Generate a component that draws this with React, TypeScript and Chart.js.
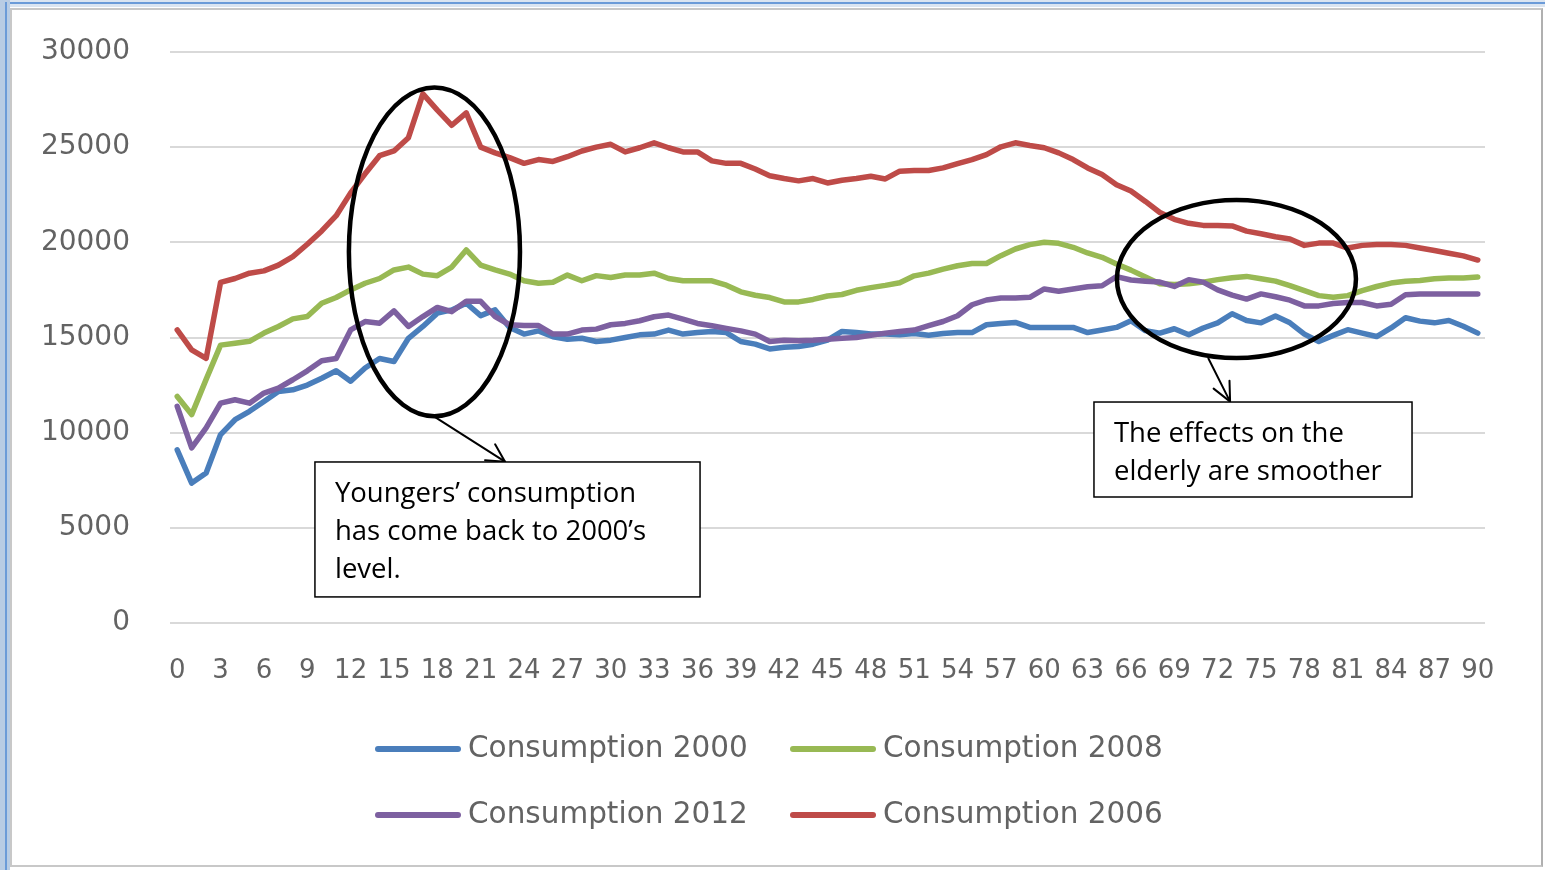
import React, { useEffect, useRef } from "react";
import { Chart, registerables } from "chart.js";

Chart.register(...registerables);

// ---------- data ----------
const AGES = [
  "0","1","2","3","4","5","6","7","8","9","10","11","12","13","14","15","16","17","18","19",
  "20","21","22","23","24","25","26","27","28","29","30","31","32","33","34","35","36","37","38","39",
  "40","41","42","43","44","45","46","47","48","49","50","51","52","53","54","55","56","57","58","59",
  "60","61","62","63","64","65","66","67","68","69","70","71","72","73","74","75","76","77","78","79",
  "80","81","82","83","84","85","86","87","88","89","90",
];

const CONS_2000 = [
  9100, 7350, 7880, 9900, 10680, 11120, 11640, 12160, 12250, 12500,
  12860, 13250, 12700, 13400, 13900, 13740, 14960, 15580, 16280, 16450,
  16800, 16150, 16450, 15530, 15180, 15350, 15040, 14910, 14960, 14790,
  14860, 15000, 15140, 15180, 15390, 15180, 15260, 15320, 15260, 14790,
  14650, 14400, 14490, 14530, 14650, 14860, 15320, 15260, 15180, 15180,
  15140, 15210, 15120, 15210, 15260, 15260, 15670, 15740, 15790, 15530,
  15530, 15530, 15530, 15260, 15390, 15530, 15880, 15360, 15230, 15460,
  15140, 15500, 15770, 16250, 15890, 15770, 16130, 15770, 15180, 14790,
  15110, 15410, 15230, 15050, 15500, 16040, 15860, 15770, 15890, 15590,
  15230,
];

const CONS_2008 = [
  11900, 10950, 12800, 14600, 14700, 14800, 15230, 15580, 15980, 16100,
  16800, 17100, 17500, 17850, 18100, 18550, 18700, 18330, 18250, 18700,
  19600, 18800, 18550, 18330, 17980, 17850, 17900, 18280, 17980, 18250,
  18150, 18280, 18280, 18380, 18100, 17980, 17980, 17980, 17750, 17400,
  17220, 17100, 16870, 16870, 17000, 17180, 17260, 17480, 17620, 17740,
  17880, 18240, 18380, 18590, 18770, 18890, 18890, 19300, 19650, 19880,
  20000, 19950, 19740, 19440, 19210, 18860, 18540, 18180, 17820, 17790,
  17820, 17910, 18040, 18140, 18210, 18090, 17960, 17730, 17460, 17200,
  17110, 17200, 17460, 17680, 17860, 17960, 18000, 18090, 18130, 18130,
  18180,
];

const CONS_2012 = [
  11380, 9200, 10250, 11550, 11730, 11550, 12080, 12340, 12780, 13250,
  13780, 13900, 15400, 15840, 15750, 16400, 15580, 16100, 16580, 16360,
  16900, 16900, 16100, 15670, 15630, 15630, 15180, 15180, 15390, 15440,
  15670, 15740, 15880, 16090, 16180, 15970, 15740, 15620, 15480, 15350,
  15180, 14790, 14860, 14830, 14850, 14910, 14960, 15000, 15120, 15230,
  15320, 15390, 15620, 15840, 16140, 16720, 16970, 17080, 17080, 17110,
  17550, 17430, 17550, 17670, 17720, 18200, 18020, 17960, 17910, 17680,
  18040, 17910, 17500, 17230, 17020, 17290, 17140, 16960, 16660, 16660,
  16790, 16840, 16840, 16660, 16750, 17250, 17290, 17290, 17290, 17290,
  17290,
];

const CONS_2006 = [
  15400, 14350, 13900, 17900, 18100, 18380, 18500, 18800, 19250, 19900,
  20600, 21400, 22600, 23600, 24550, 24800, 25500, 27800, 26950, 26150,
  26800, 25000, 24700, 24450, 24150, 24350, 24250, 24500, 24800, 25000,
  25150, 24750, 24970, 25230, 24970, 24750, 24750, 24280, 24150, 24150,
  23850, 23500, 23350, 23230, 23350, 23120, 23260, 23350, 23470, 23330,
  23740, 23770, 23770, 23910, 24140, 24350, 24610, 25020, 25230, 25090,
  24970, 24700, 24350, 23910, 23560, 23030, 22700, 22150, 21570, 21210,
  21000, 20890, 20890, 20860, 20590, 20450, 20290, 20180, 19840, 19960,
  19960, 19700, 19840, 19880, 19880, 19840, 19700, 19570, 19430, 19290,
  19070,
];

const SERIES_NAMES = ["Consumption 2000", "Consumption 2008", "Consumption 2012", "Consumption 2006"];
const SERIES_VALUES = [CONS_2000, CONS_2008, CONS_2012, CONS_2006];
const SERIES_COLORS = ["#4a7ebb", "#98b954", "#7d60a0", "#be4b48"];

const NOTE_YOUNG = ["Youngers\u2019 consumption", "has come back to 2000\u2019s", "level."];
const NOTE_OLD = ["The effects on the", "elderly are smoother"];

// ---------- annotation geometry (data units: x = age index, y = value) ----------
const ELLIPSES = [
  { cx: 17.8, cy: 19500, rx: 5.92, ry: 8640 },
  { cx: 73.3, cy: 18070, rx: 8.27, ry: 4150 },
];
const ARROWS = [
  { x1: 17.6, y1: 10930, x2: 22.68, y2: 8475, head: 20, spread: 28 },
  { x1: 71.36, y1: 13900, x2: 72.86, y2: 11630, head: 21, spread: 25 },
];
const NOTES = [
  { x1: 9.53, y1: 8460, x2: 36.18, y2: 1370, lines: NOTE_YOUNG },
  { x1: 63.44, y1: 11610, x2: 85.45, y2: 6620, lines: NOTE_OLD },
];

// legend layout (pixels)
const LEGEND_COLS = [375, 790];
const LEGEND_ROWS = [749, 815];
const LEGEND_LINE = 86;

const annotationPlugin = {
  id: "annotations",
  afterDraw(chart: any) {
    const ctx = chart.ctx;
    const xs = chart.scales.x;
    const ys = chart.scales.y;
    const px = (v: number) => xs.getPixelForValue(v);
    const py = (v: number) => ys.getPixelForValue(v);
    const unitX = px(1) - px(0);
    const unitY = py(0) - py(1);
    ctx.save();

    // ellipses
    ctx.strokeStyle = "#000";
    ctx.lineWidth = 4.5;
    ELLIPSES.forEach((e) => {
      ctx.beginPath();
      ctx.ellipse(px(e.cx), py(e.cy), e.rx * unitX, e.ry * unitY, 0, 0, Math.PI * 2);
      ctx.stroke();
    });

    // arrows
    ctx.lineWidth = 2;
    ctx.lineCap = "round";
    ARROWS.forEach((a) => {
      const x1 = px(a.x1), y1 = py(a.y1), x2 = px(a.x2), y2 = py(a.y2);
      ctx.beginPath();
      ctx.moveTo(x1, y1);
      ctx.lineTo(x2, y2);
      ctx.stroke();
      const ang = Math.atan2(y1 - y2, x1 - x2);
      const sp = (a.spread * Math.PI) / 180;
      ctx.beginPath();
      ctx.moveTo(x2 + a.head * Math.cos(ang + sp), y2 + a.head * Math.sin(ang + sp));
      ctx.lineTo(x2, y2);
      ctx.lineTo(x2 + a.head * Math.cos(ang - sp), y2 + a.head * Math.sin(ang - sp));
      ctx.stroke();
    });

    // note boxes
    NOTES.forEach((n) => {
      const left = px(n.x1), top = py(n.y1), right = px(n.x2), bottom = py(n.y2);
      ctx.fillStyle = "#fff";
      ctx.fillRect(left, top, right - left, bottom - top);
      ctx.strokeStyle = "#000";
      ctx.lineWidth = 1.5;
      ctx.strokeRect(left, top, right - left, bottom - top);
      ctx.fillStyle = "#000";
      ctx.font = '27.5px "Open Sans"';
      ctx.textBaseline = "alphabetic";
      ctx.textAlign = "left";
      n.lines.forEach((t, i) => {
        ctx.fillText(t, left + 20, top + 40 + i * 38);
      });
    });

    // legend (2 x 2)
    ctx.font = '29.5px "DejaVu Sans"';
    ctx.textBaseline = "middle";
    ctx.textAlign = "left";
    chart.data.datasets.forEach((ds: any, i: number) => {
      const col = i % 2;
      const row = Math.floor(i / 2);
      const x = LEGEND_COLS[col];
      const y = LEGEND_ROWS[row];
      ctx.strokeStyle = ds.borderColor;
      ctx.lineWidth = 6;
      ctx.lineCap = "round";
      ctx.beginPath();
      ctx.moveTo(x + 3, y);
      ctx.lineTo(x + LEGEND_LINE - 3, y);
      ctx.stroke();
      ctx.fillStyle = "#636363";
      ctx.fillText(ds.label, x + LEGEND_LINE + 7, y);
    });

    ctx.restore();
  },
};

export default function App() {
  const canvasRef = useRef<HTMLCanvasElement | null>(null);

  useEffect(() => {
    if (!canvasRef.current) return;
    const chart = new Chart(canvasRef.current, {
      type: "line",
      data: {
        labels: AGES,
        datasets: SERIES_NAMES.map((name, i) => ({
          label: name,
          data: SERIES_VALUES[i],
          borderColor: SERIES_COLORS[i],
          backgroundColor: SERIES_COLORS[i],
          borderWidth: 5.5,
          pointRadius: 0,
          tension: 0,
          borderJoinStyle: "round" as const,
          borderCapStyle: "round" as const,
          fill: false,
          order: SERIES_NAMES.length - i,
        })),
      },
      options: {
        responsive: false,
        animation: false,
        layout: { padding: { top: 52, right: 60, left: 0, bottom: 0 } },
        plugins: {
          legend: { display: false },
          tooltip: { enabled: false },
        },
        scales: {
          x: {
            type: "category",
            offset: true,
            grid: { display: false, drawTicks: false },
            border: { display: false },
            ticks: {
              autoSkip: false,
              maxRotation: 0,
              minRotation: 0,
              padding: 33,
              color: "#636363",
              font: { family: '"DejaVu Sans"', size: 26 },
              callback: (_v: any, i: number) => (i % 3 === 0 ? AGES[i] : null),
            },
            afterFit: (s: any) => {
              s.height = 247;
            },
          },
          y: {
            min: 0,
            max: 30000,
            grid: { color: "#d9d9d9", lineWidth: 2, drawTicks: true, tickLength: 40, tickColor: "rgba(0,0,0,0)" },
            border: { display: false },
            ticks: {
              stepSize: 5000,
              padding: 0,
              color: "#636363",
              font: { family: '"DejaVu Sans"', size: 28 },
              callback: (v: any) => String(v),
            },
            afterFit: (s: any) => {
              s.width = 170;
            },
          },
        },
      },
      plugins: [annotationPlugin],
    });
    return () => chart.destroy();
  }, []);

  return (
    <div style={{ position: "fixed", left: 0, top: 0, width: 1545, height: 870, background: "#fff", overflow: "hidden" }}>
      <canvas ref={canvasRef} width={1545} height={870} style={{ position: "absolute", left: 0, top: 0 }} />
      {/* window frame */}
      <div style={{ position: "absolute", left: 0, top: 0, width: 1545, height: 7, background: "#dbe5f1", pointerEvents: "none" }} />
      <div style={{ position: "absolute", left: 0, top: 2, width: 1545, height: 2, background: "#6b9bd8", pointerEvents: "none" }} />
      <div style={{ position: "absolute", left: 0, top: 0, width: 10, height: 870, background: "#b8cce4", pointerEvents: "none" }} />
      <div style={{ position: "absolute", left: 5, top: 2, width: 2, height: 868, background: "#6b9bd8", pointerEvents: "none" }} />
      <div style={{ position: "absolute", left: 10, top: 8, width: 1533, height: 859, border: "2px solid #c8c8c8", borderRightColor: "#b0b0b0", boxSizing: "border-box", pointerEvents: "none" }} />
    </div>
  );
}
